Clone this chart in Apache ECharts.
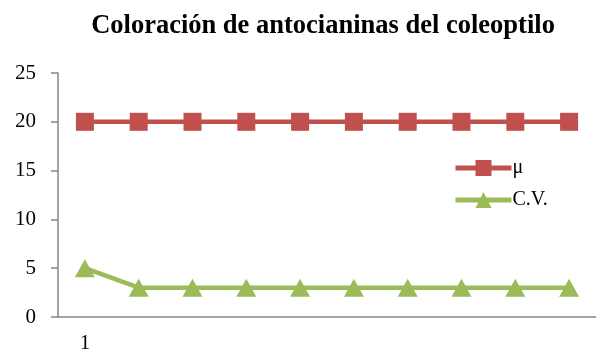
<!DOCTYPE html>
<html><head><meta charset="utf-8">
<script src="https://cdn.jsdelivr.net/npm/echarts@6/dist/echarts.min.js"></script>
<style>html,body{margin:0;padding:0;background:#fff}#c{width:596px;height:356px}</style>
</head><body><div id="c"></div>
<script>
const titleText = 'Coloración de antocianinas del coleoptilo';
const categories = ['1','2','3','4','5','6','7','8','9','10'];
const muValues = [20,20,20,20,20,20,20,20,20,20];
const cvValues = [5,3,3,3,3,3,3,3,3,3];
const seriesNames = ['μ','C.V.'];
const yTicks = {min:0, max:25, interval:5};

const font = 'Liberation Serif';
const chart = echarts.init(document.getElementById('c'));
chart.setOption({
  animation:false,
  title:{text:titleText,left:318,textAlign:'center',top:8,
    textStyle:{fontFamily:font,fontSize:26.5,fontWeight:'bold',color:'#000'}},
  grid:{left:58,right:0,top:73,bottom:39,containLabel:false},
  legend:{orient:'vertical',left:448,top:153,itemWidth:56,itemHeight:20,itemGap:12,
    lineStyle:{width:5},
    textStyle:{fontFamily:font,fontSize:20,color:'#000',padding:[0,0,0,-4]},
    data:seriesNames},
  xAxis:{type:'category',data:categories,boundaryGap:true,
    axisLine:{lineStyle:{color:'#868686',width:1.5}},
    axisTick:{interval:10,length:7,lineStyle:{color:'#868686',width:1.5}},
    axisLabel:{interval:10,margin:16,fontFamily:font,fontSize:21,color:'#000'}},
  yAxis:{type:'value',min:yTicks.min,max:yTicks.max,interval:yTicks.interval,
    splitLine:{show:false},
    axisLine:{show:true,lineStyle:{color:'#868686',width:1.5}},
    axisTick:{show:true,length:7,lineStyle:{color:'#868686',width:1.5}},
    axisLabel:{margin:22,fontFamily:font,fontSize:21,color:'#000'}},
  series:[
    {name:seriesNames[0],type:'line',data:muValues,symbol:'rect',symbolSize:18,
      color:'#C0504D',lineStyle:{width:4.5,color:'#C0504D'},itemStyle:{color:'#C0504D'}},
    {name:seriesNames[1],type:'line',data:cvValues,symbol:'triangle',symbolSize:[20,18],
      color:'#9BBB59',lineStyle:{width:4.5,color:'#9BBB59'},itemStyle:{color:'#9BBB59'}}
  ]
});
</script></body></html>
